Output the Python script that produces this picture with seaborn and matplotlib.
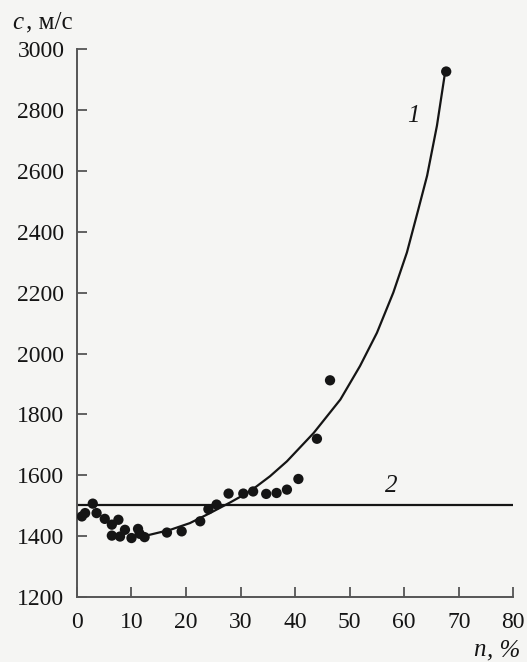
import numpy as np
import pandas as pd
import seaborn as sns
from matplotlib import pyplot as plt

# measured points: concentration n (%) and sound speed c (m/s)
n_points = [0.9, 1.5, 2.9, 3.6, 5.1, 6.4, 6.4, 7.6, 7.9, 8.8, 10.0, 11.2, 11.5, 12.4,
            16.5, 19.2, 22.6, 24.1, 25.6, 27.8, 30.5, 32.3, 34.7, 36.6, 38.5,
            40.6, 44.0, 46.4, 67.7]
c_points = [1465, 1476, 1507, 1476, 1457, 1438, 1402, 1454, 1399, 1421, 1394, 1424, 1408, 1397,
            1412, 1416, 1449, 1489, 1504, 1540, 1540, 1547, 1539, 1542, 1553,
            1588, 1720, 1912, 2926]

# curve 1
n_curve = [11.6, 13.4, 17.1, 20.7, 24.4, 28.1, 31.7, 35.4, 38.5, 43.4, 48.3, 51.9,
           55.0, 58.0, 60.5, 62.6, 64.2, 66.0, 67.5]
c_curve = [1399, 1405, 1421, 1443, 1476, 1511, 1547, 1597, 1646, 1739, 1849, 1959,
           2068, 2200, 2332, 2474, 2584, 2748, 2924]

# line 2
n_line = [0, 80]
c_line = [1504, 1504]

x_ticks = [0, 10, 20, 30, 40, 50, 60, 70, 80]
y_ticks = [1200, 1400, 1600, 1800, 2000, 2200, 2400, 2600, 2800, 3000]

sns.set_style("ticks")
plt.rcParams['font.family'] = ['Liberation Serif', 'DejaVu Serif']
bg = "#f5f5f3"
ink = "#151515"

pts = pd.DataFrame({"n": n_points, "c": c_points})
curve = pd.DataFrame({"n": n_curve, "c": c_curve})
line = pd.DataFrame({"n": n_line, "c": c_line})

fig = plt.figure(figsize=(5.27, 6.62), dpi=100, facecolor=bg)
ax = fig.add_axes([0.146, 0.098, 0.828, 0.828])
ax.set_facecolor(bg)

sns.lineplot(data=curve, x="n", y="c", ax=ax, color=ink, lw=1.6, sort=False)
sns.lineplot(data=line, x="n", y="c", ax=ax, color=ink, lw=1.6)
sns.scatterplot(data=pts, x="n", y="c", ax=ax, color=ink, s=55, edgecolor="none", zorder=3)

ax.set_xlim(0, 80)
ax.set_ylim(1200, 3000)
ax.set_xticks(x_ticks)
ax.set_yticks(y_ticks)
ax.tick_params(direction="in", length=7, width=1.3, colors="#555555",
               labelsize=17, labelcolor=ink)
ax.tick_params(axis="x", pad=11)
ax.tick_params(axis="y", pad=9)
sns.despine(ax=ax)
for s in ["left", "bottom"]:
    ax.spines[s].set_color("#555555")
    ax.spines[s].set_linewidth(1.4)
ax.set_xlabel("")
ax.set_ylabel("")

# axis titles: italic letter + units
fig.text(0.024, 0.966, "c", fontsize=18, style="italic", color=ink, va="center", ha="left")
fig.text(0.050, 0.966, ", м/с", fontsize=18, color=ink, va="center", ha="left")
fig.text(0.897, 0.018, "n", fontsize=18, style="italic", color=ink, va="center", ha="left")
fig.text(0.924, 0.018, ", %", fontsize=18, style="italic", color=ink, va="center", ha="left")

ax.text(61.7, 2780, "1", fontsize=18, style="italic", color=ink, ha="center", va="center")
ax.text(57.7, 1564, "2", fontsize=18, style="italic", color=ink, ha="center", va="center")

fig.savefig("out.png", dpi=100, facecolor=bg)
